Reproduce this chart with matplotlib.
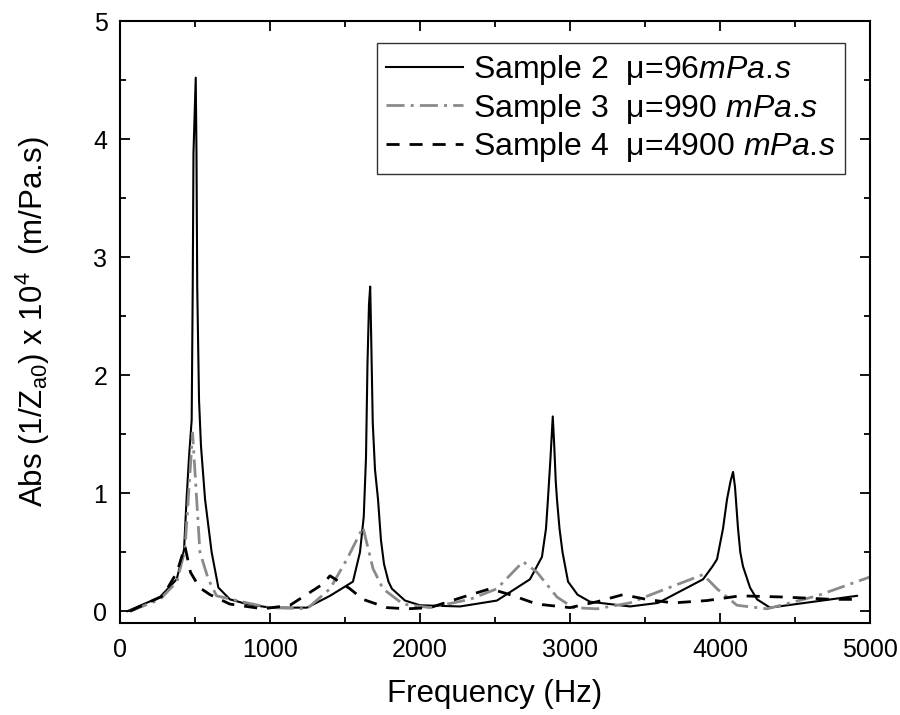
import matplotlib
matplotlib.use("Agg")
import matplotlib.pyplot as plt
from matplotlib.ticker import MultipleLocator

plt.rcParams['font.family'] = ['Liberation Sans', 'DejaVu Sans']
plt.rcParams['mathtext.fontset'] = 'custom'
plt.rcParams['mathtext.rm'] = 'Liberation Sans'
plt.rcParams['mathtext.it'] = 'Liberation Sans:italic'

# Sample 2, mu = 96 mPa.s (solid black)
f2 = [50, 267, 378, 427, 444, 460, 478, 485, 490, 505, 510, 515, 527, 540, 567, 611, 656,
      733, 847, 1000, 1247, 1400, 1553, 1600, 1625, 1640, 1650, 1660, 1668, 1675, 1685,
      1700, 1720, 1740, 1760, 1790, 1813, 1900, 2000, 2267, 2513, 2733, 2813, 2840, 2853,
      2870, 2885, 2895, 2905, 2913, 2930, 2950, 2987, 3050, 3133, 3400, 3587, 3887, 3950,
      3980, 4020, 4047, 4070, 4087, 4100, 4120, 4135, 4153, 4200, 4247, 4333, 4913]
a2 = [0.0, 0.12, 0.27, 0.52, 0.95, 1.3, 1.62, 2.75, 3.88, 4.52, 3.88, 2.75, 1.79, 1.4, 0.95, 0.5, 0.2,
      0.1, 0.06, 0.03, 0.03, 0.13, 0.25, 0.5, 0.8, 1.3, 2.1, 2.6, 2.75, 2.3, 1.6,
      1.2, 0.95, 0.6, 0.4, 0.25, 0.19, 0.09, 0.05, 0.04, 0.09, 0.27, 0.46, 0.7, 0.95,
      1.3, 1.65, 1.4, 1.1, 0.95, 0.7, 0.5, 0.25, 0.14, 0.08, 0.04, 0.07, 0.27, 0.38,
      0.44, 0.7, 0.95, 1.1, 1.18, 1.05, 0.7, 0.5, 0.38, 0.2, 0.1, 0.03, 0.13]

# Sample 3, mu = 990 mPa.s (grey dash-dot)
f3 = [67, 267, 380, 433, 484, 533, 589, 644, 847, 1000, 1247, 1400, 1513, 1620, 1687,
      1753, 1887, 2067, 2333, 2513, 2687, 2780, 2913, 3020, 3180, 3400, 3580, 3887, 3980,
      4113, 4313, 4647, 5000]
a3 = [0.0, 0.1, 0.25, 0.52, 1.51, 0.5, 0.27, 0.13, 0.07, 0.03, 0.02, 0.19, 0.44, 0.71, 0.36,
      0.19, 0.06, 0.03, 0.1, 0.19, 0.42, 0.33, 0.12, 0.03, 0.02, 0.07, 0.16, 0.31, 0.19,
      0.05, 0.02, 0.13, 0.29]

# Sample 4, mu = 4900 mPa.s (black dashed)
f4 = [67, 287, 380, 433, 470, 530, 600, 733, 953, 1133, 1353, 1400, 1533, 1620, 1780, 1913,
      2067, 2287, 2467, 2600, 2780, 3000, 3180, 3353, 3510, 3687, 3913, 4133, 4420, 4753,
      4933]
a4 = [0.0, 0.13, 0.33, 0.55, 0.33, 0.2, 0.14, 0.06, 0.02, 0.05, 0.23, 0.3, 0.19, 0.1, 0.03, 0.02,
      0.03, 0.12, 0.19, 0.14, 0.06, 0.03, 0.08, 0.14, 0.1, 0.07, 0.09, 0.13, 0.12, 0.1,
      0.1]

labels = ['Sample 2  \u03bc=96$\\mathit{mPa.\\!s}$',
          'Sample 3  \u03bc=990 $\\mathit{mPa.\\!s}$',
          'Sample 4  \u03bc=4900 $\\mathit{mPa.\\!s}$']

fig = plt.figure(figsize=(9, 7.15), dpi=100)
ax = fig.add_axes([0.1333, 0.1287, 0.8334, 0.8419])

ax.plot(f2, a2, color='black', lw=1.5, label=labels[0])
ax.plot(f3, a3, color='#8a8a8a', lw=2.0, dashes=(6.5, 2.2, 1.1, 2.2), label=labels[1])
ax.plot(f4, a4, color='black', lw=2.0, dashes=(4.7, 3.6), label=labels[2])

ax.set_xlim(0, 5000)
ax.set_ylim(-0.1, 5)
ax.xaxis.set_major_locator(MultipleLocator(1000))
ax.xaxis.set_minor_locator(MultipleLocator(500))
ax.yaxis.set_major_locator(MultipleLocator(1))
ax.yaxis.set_minor_locator(MultipleLocator(0.5))
ax.tick_params(which='both', direction='in', top=True, right=True, width=1.3, labelsize=18)
ax.tick_params(which='major', length=7)
ax.tick_params(axis='x', which='major', pad=11)
ax.tick_params(axis='y', which='major', pad=9)
ax.tick_params(which='minor', length=4)
for s in ax.spines.values():
    s.set_linewidth(1.5)

ax.set_xlabel('Frequency (Hz)', fontsize=22.5, labelpad=12)
ax.set_ylabel('Abs (1/Z$_{\\mathrm{a0}}$) x 10$^{4}$  (m/Pa.s)', fontsize=22.5, labelpad=30)

leg = ax.legend(loc='upper right', bbox_to_anchor=(0.967, 0.963), borderaxespad=0,
                fontsize=23, frameon=True, fancybox=False, handlelength=2.4,
                handletextpad=0.3, labelspacing=0.15, borderpad=0.3)
leg.get_frame().set_edgecolor('black')
leg.get_frame().set_linewidth(1.0)

fig.savefig('out.png', dpi=100)
